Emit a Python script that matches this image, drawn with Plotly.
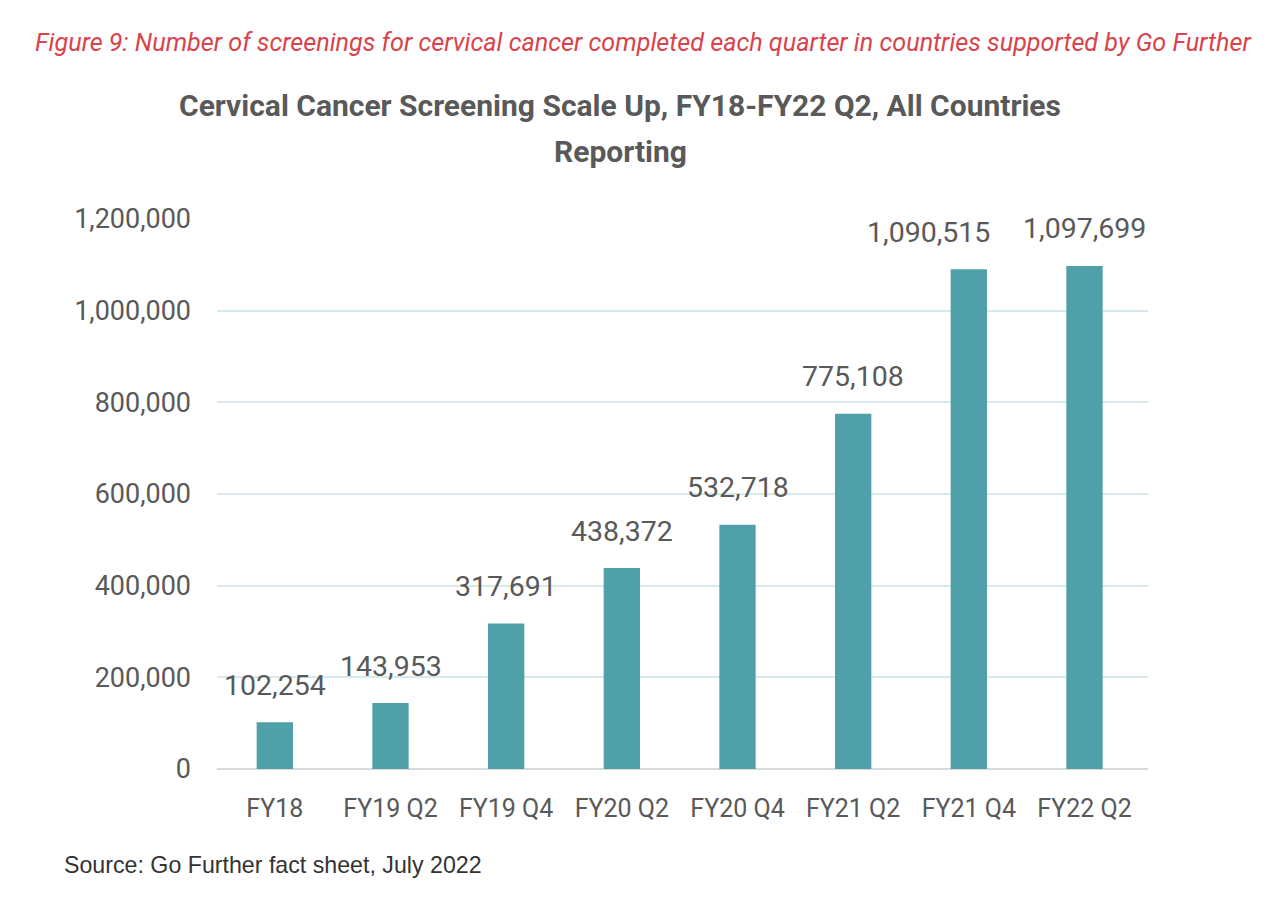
import plotly.graph_objects as go

categories = ["FY18", "FY19 Q2", "FY19 Q4", "FY20 Q2", "FY20 Q4", "FY21 Q2", "FY21 Q4", "FY22 Q2"]
screenings = [102254, 143953, 317691, 438372, 532718, 775108, 1090515, 1097699]
y_ticks = [0, 200000, 400000, 600000, 800000, 1000000, 1200000]

W, H = 1286, 908
OFF = 8  # page body margin offset
L, T = 217 - OFF, 219 - OFF
pw, ph = 931, 550
R = W - L - pw
B = H - T - ph

def px(x):
    return (x - OFF - L) / pw

def py(y):
    return (T + ph - (y - OFF)) / ph

# label nudges to avoid overlap (as in the original Excel chart)
label_xshift = {"FY21 Q4": -40}

fig = go.Figure()
fig.add_trace(go.Bar(
    x=categories, y=screenings,
    marker=dict(color="#50A0A9", line=dict(width=0)),
    cliponaxis=False,
))

for c, v in zip(categories, screenings):
    fig.add_annotation(
        x=c, y=v, xref="x", yref="y", text=f"{v:,}",
        showarrow=False, yanchor="middle", yshift=37,
        xshift=label_xshift.get(c, 0),
        font=dict(family="Roboto", size=28.5, color="#595959"),
    )

fig.update_layout(
    width=W, height=H,
    margin=dict(l=L, r=R, t=T, b=B),
    paper_bgcolor="white", plot_bgcolor="white",
    bargap=0.686,
    showlegend=False,
    xaxis=dict(
        tickfont=dict(family="Roboto", size=25, color="#595959"),
        showgrid=False, showline=False, ticks="",
        ticklabelstandoff=22,
    ),
    yaxis=dict(
        range=[0, 1200000],
        tickvals=y_ticks,
        tickformat=",",
        tickfont=dict(family="Roboto", size=27, color="#595959"),
        showgrid=True, gridcolor="#D6E9ED", gridwidth=2,
        zeroline=True, zerolinecolor="#D9D9D9", zerolinewidth=2,
        showline=False, ticks="",
        ticklabelstandoff=25,
    ),
)

fig.add_annotation(
    text="<i>Figure 9: Number of screenings for cervical cancer completed each quarter in countries supported by Go Further</i>",
    xref="paper", yref="paper", x=px(33), y=py(42), xanchor="left", yanchor="middle",
    showarrow=False, font=dict(family="Roboto", size=25.2, color="#D9434B"))
fig.add_annotation(
    text="<b>Cervical Cancer Screening Scale Up, FY18-FY22 Q2, All Countries</b>",
    xref="paper", yref="paper", x=px(620), y=py(106), xanchor="center", yanchor="middle",
    showarrow=False, font=dict(family="Roboto", size=30, color="#595959"))
fig.add_annotation(
    text="<b>Reporting</b>",
    xref="paper", yref="paper", x=px(620), y=py(151), xanchor="center", yanchor="middle",
    showarrow=False, font=dict(family="Roboto", size=30, color="#595959"))
fig.add_annotation(
    text="Source: Go Further fact sheet, July 2022",
    xref="paper", yref="paper", x=px(62), y=py(865), xanchor="left", yanchor="middle",
    showarrow=False, font=dict(family="Liberation Sans", size=23.2, color="#333333"))

fig.write_html("out.html")
